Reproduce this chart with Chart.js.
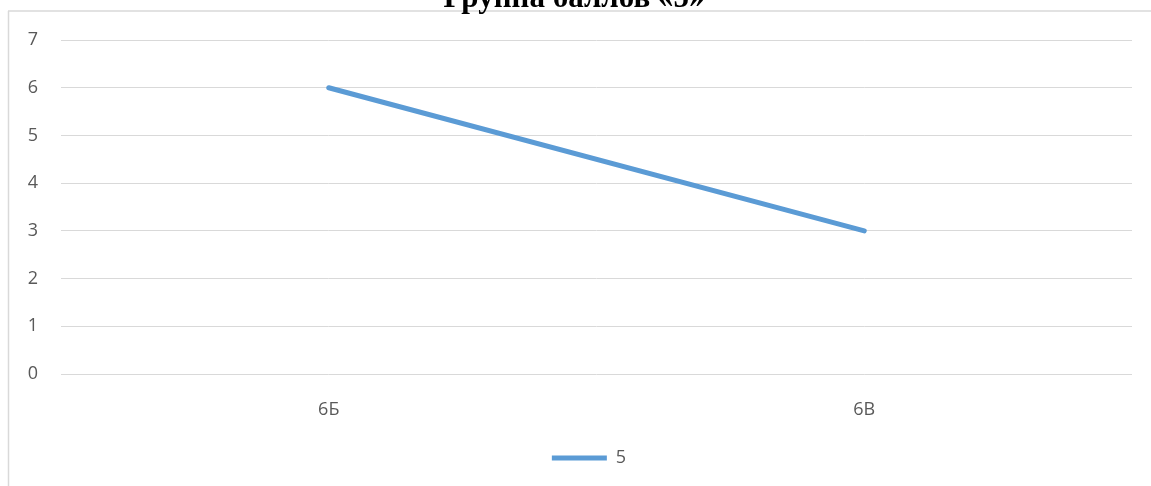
<!DOCTYPE html>
<html>
<head>
<meta charset="utf-8">
<script src="https://cdn.jsdelivr.net/npm/chart.js@4"></script>
<style>
  html, body { margin: 0; padding: 0; background: #fff; }
  #wrap { width: 1151px; height: 486px; position: relative; }
</style>
</head>
<body>
<div id="wrap"><canvas id="chart" width="1151" height="486"></canvas></div>
<script>
// chart data
const chartTitle = 'Группа баллов «5»';
const categories = ['6Б', '6В'];
const seriesName = '5';
const seriesValues = [6, 3];
const yTicks = [0, 1, 2, 3, 4, 5, 6, 7];

const textColor = '#595959';
const gridColor = '#d9d9d9';
const lineColor = '#5b9bd5';
const labelFont = { family: '"Open Sans", "Liberation Sans", sans-serif', size: 18 };

// outer frame + cut-off title, like the Word chart it came from
const framePlugin = {
  id: 'frame',
  afterLayout(chart) {
    // legend sits a bit right of centre in the original
    chart.legend.left += 23;
    chart.legend.right += 23;
  },
  beforeDraw(chart) {
    const ctx = chart.ctx;
    ctx.save();
    ctx.strokeStyle = gridColor;
    ctx.lineWidth = 1.5;
    ctx.beginPath();
    ctx.moveTo(8, 11);
    ctx.lineTo(chart.width, 11);
    ctx.moveTo(8.5, 11);
    ctx.lineTo(8.5, chart.height);
    ctx.stroke();
    ctx.fillStyle = '#000';
    ctx.font = 'bold 31px "Liberation Serif", "DejaVu Serif", serif';
    ctx.textAlign = 'center';
    ctx.textBaseline = 'alphabetic';
    ctx.fillText(chartTitle, 574, 7);
    ctx.restore();
  }
};

new Chart(document.getElementById('chart'), {
  type: 'line',
  data: {
    labels: categories,
    datasets: [{
      label: seriesName,
      data: seriesValues,
      borderColor: lineColor,
      backgroundColor: lineColor,
      borderWidth: 5,
      borderCapStyle: 'round',
      borderJoinStyle: 'round',
      pointRadius: 0,
      pointHoverRadius: 0,
      tension: 0
    }]
  },
  options: {
    responsive: false,
    animation: false,
    layout: { padding: { top: 40, right: 19, bottom: 9, left: 0 } },
    scales: {
      x: {
        offset: true,
        grid: { display: false },
        border: { display: false },
        ticks: { color: textColor, font: labelFont, padding: 17, maxRotation: 0 },
        afterFit(scale) { scale.height = 65; }
      },
      y: {
        min: 0,
        max: 7,
        afterBuildTicks(scale) { scale.ticks = yTicks.map(v => ({ value: v })); },
        grid: { color: gridColor, lineWidth: 1, drawTicks: false },
        border: { display: false },
        ticks: { color: textColor, font: labelFont, padding: 23 },
        afterFit(scale) { scale.width = 61; }
      }
    },
    plugins: {
      legend: {
        position: 'bottom',
        labels: {
          color: textColor,
          font: labelFont,
          usePointStyle: true,
          pointStyle: 'line',
          pointStyleWidth: 55,
          boxHeight: 18,
          padding: 10
        }
      },
      tooltip: { enabled: false }
    }
  },
  plugins: [framePlugin]
});
</script>
</body>
</html>
